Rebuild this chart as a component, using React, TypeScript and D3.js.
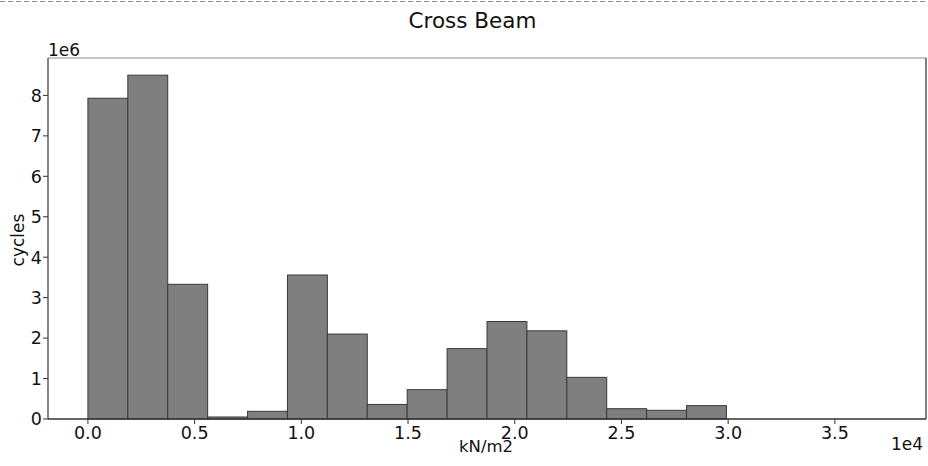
import React from "react";
import * as d3 from "d3";

// Histogram bin edges (kN/m2) and counts (cycles, in units of 1e6)
const binEdges = [0, 1870, 3740, 5610, 7480, 9350, 11220, 13090, 14960, 16830, 18700, 20570, 22440, 24310, 26180, 28050, 29920, 31790, 33660, 35530, 37400];
const cycles = [7.93, 8.5, 3.33, 0.05, 0.19, 3.56, 2.1, 0.36, 0.725, 1.74, 2.41, 2.18, 1.03, 0.255, 0.215, 0.33, 0, 0, 0, 0];
const xTicks = [0, 5000, 10000, 15000, 20000, 25000, 30000, 35000];
const yTicks = [0, 1, 2, 3, 4, 5, 6, 7, 8];
const title = "Cross Beam";
const xLabel = "kN/m2";
const yLabel = "cycles";
const xOffset = "1e4";
const yOffset = "1e6";

const W = 928;
const H = 466;
const M = { left: 48, right: 926, top: 58, bottom: 419 };
const FONT = "DejaVu Sans, sans-serif";

export default function App() {
  const xMin = binEdges[0];
  const xMax = binEdges[binEdges.length - 1];
  const pad = (xMax - xMin) * 0.05;
  const x = d3.scaleLinear().domain([xMin - pad, xMax + pad]).range([M.left, M.right]);
  const yMaxV = d3.max(cycles) as number;
  const y = d3.scaleLinear().domain([0, yMaxV * 1.05]).range([M.bottom, M.top]);

  return (
    <svg width={W} height={H} style={{ position: "absolute", left: 0, top: 0, background: "#fff" }} fontFamily={FONT}>
      <line x1={0} x2={W} y1={1.5} y2={1.5} stroke="#8a8a8a" strokeWidth={1} strokeDasharray="5,3" />
      <text x={472.5} y={28} fontSize={21.5} textAnchor="middle" fill="#111">{title}</text>

      {cycles.map((v, i) =>
        v > 0 ? (
          <rect
            key={i}
            x={x(binEdges[i])}
            y={y(v)}
            width={x(binEdges[i + 1]) - x(binEdges[i])}
            height={y(0) - y(v)}
            fill="#7f7f7f"
            stroke="#3a3a3a"
            strokeWidth={1}
          />
        ) : null
      )}

      {/* spines */}
      <line x1={M.left} x2={M.right} y1={M.top} y2={M.top} stroke="#b5b5b5" strokeWidth={1.5} />
      <line x1={M.right} x2={M.right} y1={M.top} y2={M.bottom} stroke="#555" strokeWidth={1.5} />
      <line x1={M.left} x2={M.left} y1={M.top} y2={M.bottom} stroke="#444" strokeWidth={1.3} />
      <line x1={M.left} x2={M.right} y1={M.bottom} y2={M.bottom} stroke="#333" strokeWidth={1.3} />

      {/* x ticks */}
      {xTicks.map((t) => (
        <g key={t}>
          <line x1={x(t)} x2={x(t)} y1={M.bottom} y2={M.bottom + 5} stroke="#333" strokeWidth={1} />
          <text x={x(t)} y={439} fontSize={17.5} textAnchor="middle" fill="#111">{(t / 10000).toFixed(1)}</text>
        </g>
      ))}
      {/* y ticks */}
      {yTicks.map((t) => (
        <g key={t}>
          <line x1={M.left - 5} x2={M.left} y1={y(t)} y2={y(t)} stroke="#333" strokeWidth={1} />
          <text x={42} y={y(t)} dy="0.36em" fontSize={17.5} textAnchor="end" fill="#111">{t}</text>
        </g>
      ))}

      <text x={486} y={452} fontSize={16.5} textAnchor="middle" fill="#111">{xLabel}</text>
      <text x={M.right - 3} y={450} fontSize={17} textAnchor="end" fill="#111">{xOffset}</text>
      <text x={M.left} y={56} fontSize={17} textAnchor="start" fill="#111">{yOffset}</text>
      <text transform={`translate(24,240) rotate(-90)`} fontSize={17} textAnchor="middle" fill="#111">{yLabel}</text>
    </svg>
  );
}
